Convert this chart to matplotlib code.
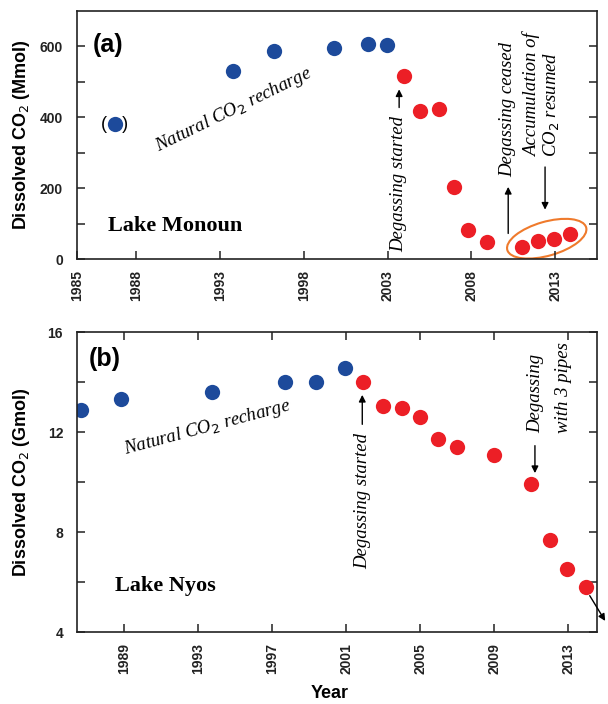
import matplotlib
matplotlib.use("Agg")
import matplotlib.pyplot as plt
from matplotlib.patches import Ellipse
from matplotlib.transforms import ScaledTranslation

# Lake Monoun, dissolved CO2 (Mmol)
mon_nat_year = [1986.7, 1993.75, 1996.2, 1999.8, 2001.85, 2002.95]
mon_nat_val = [380, 530, 586, 595, 607, 605]
mon_deg_year = [2003.98, 2004.93, 2006.07, 2006.97, 2007.83, 2008.95,
                2011.0, 2011.95, 2012.93, 2013.86]
mon_deg_val = [518, 417, 424, 204, 82, 50, 34, 51, 58, 72]
mon_ticks = [1984.46, 1988, 1993, 1998, 2003, 2008, 2013]
mon_ticklabels = ["1985", "1988", "1993", "1998", "2003", "2008", "2013"]

# Lake Nyos, dissolved CO2 (Gmol)
nyos_nat_year = [1986.67, 1988.85, 1993.77, 1997.72, 1999.36, 2000.94]
nyos_nat_val = [12.88, 13.31, 13.59, 14.01, 14.01, 14.57]
nyos_deg_year = [2001.89, 2003.0, 2004.0, 2005.0, 2005.97, 2006.98,
                 2009.0, 2010.99, 2012.0, 2012.9, 2013.93]
nyos_deg_val = [14.0, 13.05, 12.97, 12.6, 11.71, 11.39, 11.1, 9.92, 7.69, 6.52, 5.8]
nyos_ticks = [1989, 1993, 1997, 2001, 2005, 2009, 2013]

blue = "#1d4a9b"
red = "#ec1f26"
sans = "Liberation Sans"
serif = "Liberation Serif"

fig = plt.figure(figsize=(6.08, 7.04), dpi=100)
ax1 = fig.add_axes([0.1266, 0.6317, 0.8553, 0.3527])
ax2 = fig.add_axes([0.1266, 0.1018, 0.8553, 0.4266])

ms = 11
arrow = dict(arrowstyle="-|>", color="black", lw=1, mutation_scale=10)
for ax in (ax1, ax2):
    for s in ax.spines.values():
        s.set_linewidth(1.2)
        s.set_color("#222222")
    ax.tick_params(which="both", direction="in", length=6, width=1.1,
                   right=True, colors="#222222")
    ax.tick_params(axis="x", pad=8)
    ax.tick_params(axis="y", pad=10)

# ---- panel (a)
ax1.plot(mon_nat_year, mon_nat_val, "o", color=blue, ms=ms, mec="none")
ax1.plot(mon_deg_year, mon_deg_val, "o", color=red, ms=ms, mec="none")
ax1.set_xlim(1984.46, 2015.5)
ax1.set_ylim(0, 700)
ax1.set_xticks(mon_ticks)
ax1.set_xticklabels(mon_ticklabels, rotation=90, fontsize=10, fontweight="bold", family=sans)
ax1.set_yticks([0, 200, 400, 600])
ax1.set_yticks([100, 300, 500], minor=True)
ax1.set_yticklabels(["0", "200", "400", "600"], fontsize=10, fontweight="bold", family=sans)
ax1.set_ylabel("Dissolved CO$_2$ (Mmol)", fontsize=13, fontweight="bold", family=sans)
ax1.yaxis.set_label_coords(-0.087, 0.5)

ax1.text(0.031, 0.863, "(a)", transform=ax1.transAxes, fontsize=18,
         fontweight="bold", family=sans, va="center")
ax1.text(1986.7, 380, "(   )", fontsize=13, family=sans, ha="center", va="center")
ax1.text(1986.34, 94, "Lake Monoun", fontsize=16, fontweight="bold", family=serif, va="center")
ax1.text(1993.8, 420, "Natural CO$_2$ recharge", fontsize=13.5, style="italic",
         family=serif, rotation=26, ha="center", va="center")
ax1.text(2003.69, 211, "Degassing started", fontsize=13.5, style="italic",
         family=serif, rotation=90, ha="center", va="center")
ax1.annotate("", xy=(2003.69, 487), xytext=(2003.69, 420), arrowprops=arrow)
ax1.text(2010.2, 422, "Degassing ceased", fontsize=13.5, style="italic",
         family=serif, rotation=90, ha="center", va="center")
ax1.annotate("", xy=(2010.2, 212), xytext=(2010.2, 65), arrowprops=arrow)
ax1.text(2011.6, 287, "Accumulation of", fontsize=13.5, style="italic",
         family=serif, rotation=90, ha="center", va="bottom")
ax1.text(2012.8, 287, "CO$_2$ resumed", fontsize=13.5, style="italic",
         family=serif, rotation=90, ha="center", va="bottom")
ax1.annotate("", xy=(2012.4, 132), xytext=(2012.4, 268), arrowprops=arrow)
ell_tr = fig.dpi_scale_trans + ScaledTranslation(2012.5, 58, ax1.transData)
ax1.add_patch(Ellipse((0, 0), 0.82, 0.34, angle=16, transform=ell_tr,
                      fill=False, ec="#ef7a2c", lw=1.5))

# ---- panel (b)
ax2.plot(nyos_nat_year, nyos_nat_val, "o", color=blue, ms=ms, mec="none")
ax2.plot(nyos_deg_year, nyos_deg_val, "o", color=red, ms=ms, mec="none")
ax2.set_xlim(1986.47, 2014.54)
ax2.set_ylim(4, 16)
ax2.set_xticks(nyos_ticks)
ax2.set_xticklabels([str(t) for t in nyos_ticks], rotation=90, fontsize=10,
                    fontweight="bold", family=sans)
ax2.set_yticks([4, 8, 12, 16])
ax2.set_yticks([6, 10, 14], minor=True)
ax2.set_yticklabels(["4", "8", "12", "16"], fontsize=10, fontweight="bold", family=sans)
ax2.tick_params(which="both", top=True)
ax2.set_ylabel("Dissolved CO$_2$ (Gmol)", fontsize=13, fontweight="bold", family=sans)
ax2.yaxis.set_label_coords(-0.087, 0.5)
ax2.set_xlabel("Year", fontsize=13, fontweight="bold", family=sans)
ax2.xaxis.set_label_coords(0.485, -0.177)

ax2.text(0.023, 0.91, "(b)", transform=ax2.transAxes, fontsize=18,
         fontweight="bold", family=sans, va="center")
ax2.text(1988.52, 5.85, "Lake Nyos", fontsize=16, fontweight="bold", family=serif, va="center")
ax2.text(1993.49, 12.2, "Natural CO$_2$ recharge", fontsize=13.5, style="italic",
         family=serif, rotation=15, ha="center", va="center")
ax2.text(2001.87, 9.25, "Degassing started", fontsize=13.5, style="italic",
         family=serif, rotation=90, ha="center", va="center")
ax2.annotate("", xy=(2001.87, 13.6), xytext=(2001.87, 12.2), arrowprops=arrow)
ax2.text(2011.25, 11.95, "Degassing", fontsize=13.5, style="italic",
         family=serif, rotation=90, ha="center", va="bottom")
ax2.text(2012.72, 11.95, "with 3 pipes", fontsize=13.5, style="italic",
         family=serif, rotation=90, ha="center", va="bottom")
ax2.annotate("", xy=(2011.19, 10.25), xytext=(2011.19, 11.57), arrowprops=arrow)
ax2.annotate("", xy=(2015.06, 4.36), xytext=(2014.07, 5.56), arrowprops=arrow,
             annotation_clip=False)

fig.savefig("out.png", dpi=100)
